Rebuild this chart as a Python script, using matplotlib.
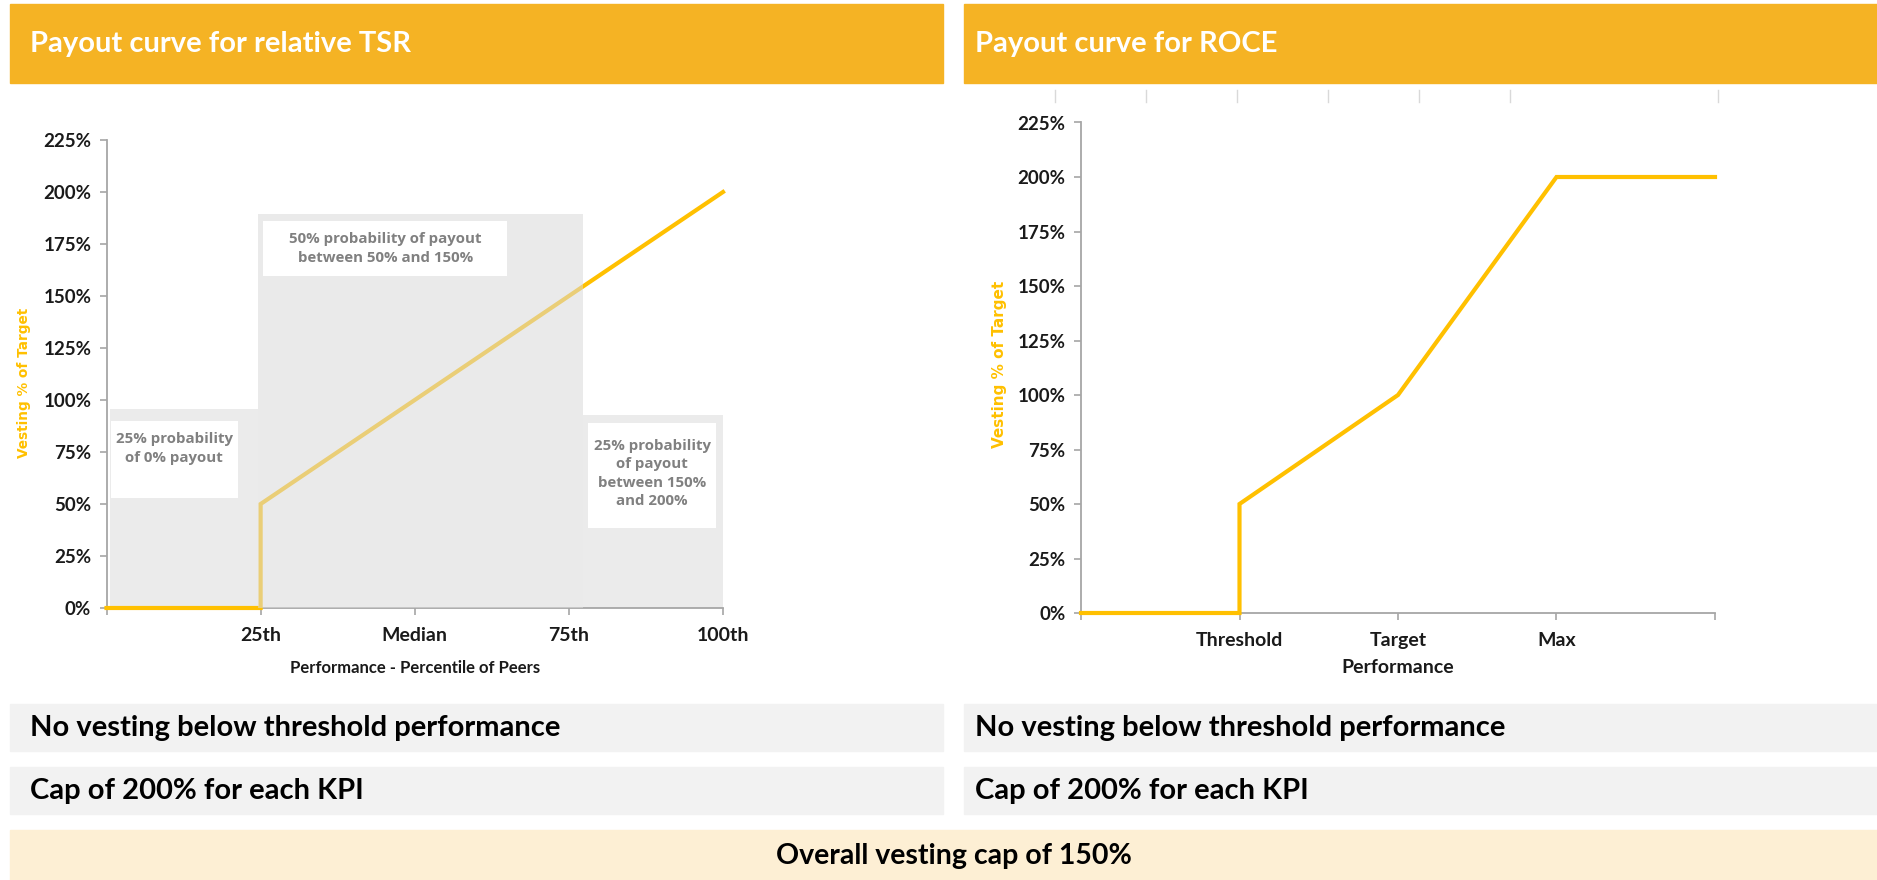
import matplotlib.pyplot as plt
from matplotlib.patches import Rectangle
import numpy as np

W, H = 1877, 880

# relative TSR payout curve (percentile of peers -> vesting %)
tsr_x = [0, 25, 25, 100]
tsr_y = [0, 0, 50, 200]
tsr_ticks = [0, 25, 50, 75, 100]
tsr_labels = ['', '25th', 'Median', '75th', '100th']

# probability bands behind the TSR curve
band_start = [0.6, 24.6, 77.3]
band_end = [24.6, 77.3, 100.2]
band_top = [95.7, 189.5, 92.8]
band_notes = ['25% probability\nof 0% payout',
              '50% probability of payout\nbetween 50% and 150%',
              '25% probability\nof payout\nbetween 150%\nand 200%']

# ROCE payout curve
roce_x = [0, 1, 1, 2, 3, 4]
roce_y = [0, 0, 50, 100, 200, 200]
roce_labels = ['', 'Threshold', 'Target', 'Max', '']

y_ticks = np.arange(0, 226, 25)

headers = ['Payout curve for relative TSR', 'Payout curve for ROCE']
notes = ['No vesting below threshold performance', 'Cap of 200% for each KPI']
footer = 'Overall vesting cap of 150%'

ORANGE = '#F5B324'
LINE = '#FFC000'
CAL = 'Lato'
VER = 'DejaVu Sans'

fig = plt.figure(figsize=(W / 100, H / 100), dpi=100)


def box(x0, y0, x1, y1, color):
    # pixel rect (top-left origin) -> figure patch
    fig.patches.append(Rectangle((x0 / W, 1 - y1 / H), (x1 - x0) / W, (y1 - y0) / H,
                                 transform=fig.transFigure, color=color, zorder=0))


def ftext(x, y, s, **kw):
    fig.text(x / W, 1 - y / H, s, fontfamily=CAL, fontweight='bold', va='center', **kw)


# header bars
box(10, 4, 943, 83, ORANGE)
box(964, 4, 1877, 83, ORANGE)
ftext(30, 44, headers[0], color='white', fontsize=21)
ftext(975, 44, headers[1], color='white', fontsize=21)

# note rows
for i, s in enumerate(notes):
    y0 = 704 + i * 63
    box(10, y0, 943, y0 + 47, '#F2F2F2')
    box(964, y0, 1877, y0 + 47, '#F2F2F2')
    ftext(30, y0 + 24, s, color='black', fontsize=21)
    ftext(975, y0 + 24, s, color='black', fontsize=21)

box(10, 830, 1877, 880, '#FDEFD4')
ftext(954, 856, footer, color='black', fontsize=20.5, ha='center')

# faint leftover ticks above the ROCE chart
for xt in [1055, 1146, 1237, 1328, 1419, 1510, 1718]:
    fig.add_artist(plt.Line2D([xt / W, xt / W], [1 - 90 / H, 1 - 102 / H],
                              transform=fig.transFigure, color='#D9D9D9', lw=1))


def style_axes(ax, xlabel, xlabel_size, labelpad):
    ax.set_ylim(0, 225)
    ax.set_yticks(y_ticks)
    ax.set_yticklabels([f'{v}%' for v in y_ticks], fontfamily=CAL, fontweight='bold', fontsize=13.5)
    for s in ['top', 'right']:
        ax.spines[s].set_visible(False)
    for s in ['left', 'bottom']:
        ax.spines[s].set_color('#A6A6A6')
        ax.spines[s].set_linewidth(1.3)
    ax.tick_params(colors='#A6A6A6', length=5, width=1.2, labelcolor='#1a1a1a')
    ax.tick_params(axis='y', pad=6)
    ax.tick_params(axis='x', pad=9)
    ax.set_xlabel(xlabel, fontfamily=CAL, fontweight='bold', fontsize=xlabel_size, color='#1a1a1a',
                  labelpad=labelpad)
    ax.set_facecolor('none')


# ---- left: relative TSR
ax1 = fig.add_axes([106.5 / W, 1 - 608 / H, (723 - 106.5) / W, (608 - 140) / H])
ax1.set_xlim(0, 100)
for i in range(3):
    if i == 1:
        ax1.add_patch(Rectangle((band_start[i], 0), band_end[i] - band_start[i], band_top[i],
                                facecolor=(218 / 255, 218 / 255, 218 / 255), alpha=0.55,
                                edgecolor='none', zorder=4))
    else:
        ax1.add_patch(Rectangle((band_start[i], 0), band_end[i] - band_start[i], band_top[i],
                                facecolor='#EBEBEB', edgecolor='none', zorder=1))
ax1.plot(tsr_x, tsr_y, color=LINE, lw=3, solid_joinstyle='miter', zorder=3, clip_on=False)

# white note boxes
note_box = [(0.7, 21.3, 52.9, 90.0), (25.4, 65.0, 159.6, 186.0), (78.1, 98.9, 38.5, 88.9)]
note_y = [76.7, 172.8, 64.7]
for (x0, x1, y0, y1), ty, s in zip(note_box, note_y, band_notes):
    ax1.add_patch(Rectangle((x0, y0), x1 - x0, y1 - y0, facecolor='white', edgecolor='none', zorder=5))
    ax1.text((x0 + x1) / 2, ty, s, ha='center', va='center', fontfamily='Open Sans', fontweight='bold',
             fontsize=10.8, color='#808080', linespacing=1.4, zorder=6)

ax1.set_xticks(tsr_ticks)
ax1.set_xticklabels(tsr_labels, fontfamily=CAL, fontweight='bold', fontsize=14)
style_axes(ax1, 'Performance - Percentile of Peers', 12, 11)
fig.text(24 / W, 1 - 383 / H, 'Vesting % of Target', rotation=90, ha='center', va='center',
         fontfamily=VER, fontweight='bold', fontsize=9.8, color=LINE)

# ---- right: ROCE
ax2 = fig.add_axes([1081 / W, 1 - 613 / H, (1715 - 1081) / W, (613 - 122.5) / H])
ax2.set_xlim(0, 4)
ax2.plot(roce_x, roce_y, color=LINE, lw=3, solid_joinstyle='miter', zorder=3, clip_on=False)
ax2.set_xticks(range(len(roce_labels)))
ax2.set_xticklabels(roce_labels, fontfamily=CAL, fontweight='bold', fontsize=14)
style_axes(ax2, 'Performance', 14, 7)
fig.text(1000 / W, 1 - 364 / H, 'Vesting % of Target', rotation=90, ha='center', va='center',
         fontfamily=VER, fontweight='bold', fontsize=11, color=LINE)

fig.savefig('out.png', dpi=100)
